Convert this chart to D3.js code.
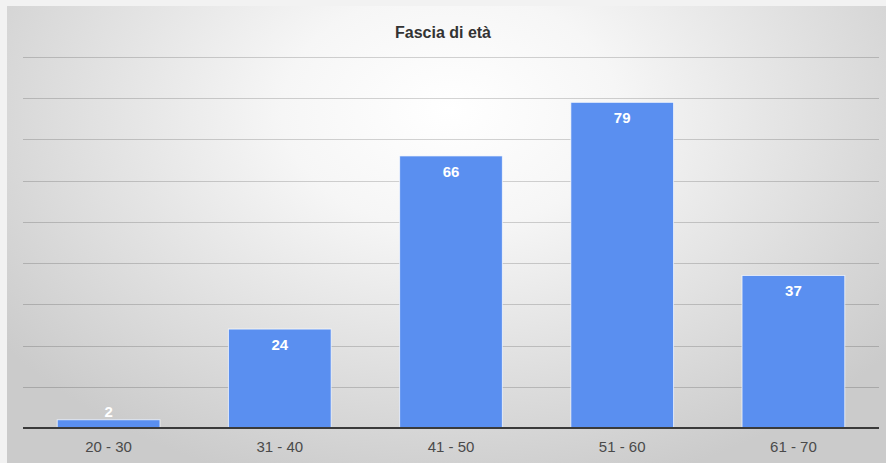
<!DOCTYPE html>
<html><head><meta charset="utf-8">
<script src="https://cdn.jsdelivr.net/npm/d3@7"></script>
<style>html,body{margin:0;padding:0;background:#f2f2f2;overflow:hidden}</style>
</head><body>
<script>
const categories = ["20 - 30", "31 - 40", "41 - 50", "51 - 60", "61 - 70"];
const values = [2, 24, 66, 79, 37];
const yTicks = [0, 10, 20, 30, 40, 50, 60, 70, 80, 90];
const title = "Fascia di età";

const W = 886, H = 463;
const FONT = "'Liberation Sans', Arial, sans-serif";
const svg = d3.select("body").append("svg").attr("width", W).attr("height", H);
const defs = svg.append("defs");
const rg = defs.append("radialGradient").attr("id", "bg")
  .attr("gradientUnits", "userSpaceOnUse")
  .attr("cx", 450).attr("cy", 110).attr("r", 560)
  .attr("gradientTransform", "translate(450,110) scale(1,0.7) translate(-450,-110)");
rg.append("stop").attr("offset", "0%").attr("stop-color", "#ffffff");
rg.append("stop").attr("offset", "30%").attr("stop-color", "#f6f6f6");
rg.append("stop").attr("offset", "100%").attr("stop-color", "#cbcbcb");

svg.append("rect").attr("x", 7).attr("y", 6).attr("width", W - 7).attr("height", H - 6).attr("fill", "url(#bg)");

const x = d3.scaleBand().domain(categories).range([23, 879]).paddingInner(0.4).paddingOuter(0.2);
const y = d3.scaleLinear().domain([0, 90]).range([428, 57]);

// gridlines
svg.append("g").selectAll("line").data(yTicks.filter(d => d > 0)).join("line")
  .attr("x1", 23).attr("x2", 879)
  .attr("y1", d => Math.round(y(d)) + 0.5).attr("y2", d => Math.round(y(d)) + 0.5)
  .attr("stroke", "rgba(0,0,0,0.17)").attr("stroke-width", 1);

// bars
svg.append("g").selectAll("rect").data(values).join("rect")
  .attr("x", (d, i) => x(categories[i]))
  .attr("y", d => y(d))
  .attr("width", x.bandwidth())
  .attr("height", d => y(0) - y(d))
  .attr("fill", "#5a8ff0")
  .attr("stroke", "rgba(255,255,255,0.7)").attr("stroke-width", 1);

// baseline
svg.append("line").attr("x1", 23).attr("x2", 879).attr("y1", 428).attr("y2", 428)
  .attr("stroke", "#3a3a3a").attr("stroke-width", 2);

// value labels
svg.append("g").selectAll("text").data(values).join("text")
  .attr("x", (d, i) => x(categories[i]) + x.bandwidth() / 2)
  .attr("y", d => (y(0) - y(d) < 25) ? y(d) - 3 : y(d) + 21)
  .attr("text-anchor", "middle")
  .attr("font-family", FONT).attr("font-weight", "bold").attr("font-size", 15)
  .attr("fill", "#ffffff")
  .text(d => d);

// x axis labels
const xAxis = d3.axisBottom(x).tickSize(0).tickPadding(13);
const gx = svg.append("g").attr("transform", "translate(0,428)").call(xAxis);
gx.select(".domain").remove();
gx.selectAll("text").attr("font-family", FONT).attr("font-size", 15).attr("fill", "#4a4a4a");

// title
svg.append("text").attr("x", 443).attr("y", 38).attr("text-anchor", "middle")
  .attr("font-family", FONT).attr("font-weight", "bold").attr("font-size", 16)
  .attr("fill", "#333").text(title);
</script>
</body></html>
